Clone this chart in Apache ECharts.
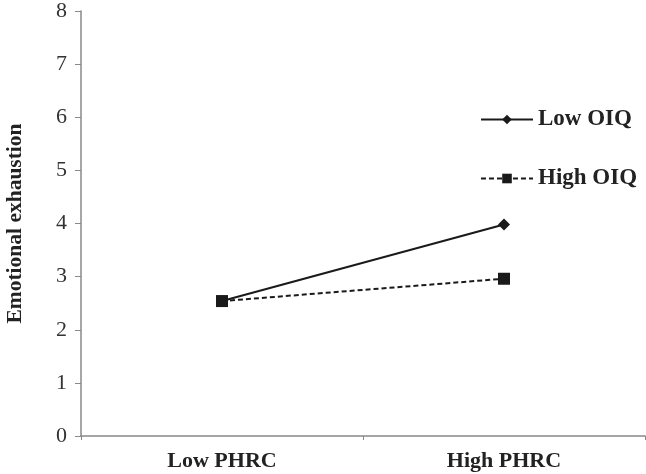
<!DOCTYPE html>
<html>
<head>
<meta charset="utf-8">
<script src="https://cdn.jsdelivr.net/npm/echarts@6/dist/echarts.min.js"></script>
<style>
	html, body { margin: 0; padding: 0; background: #fff; }
	#chart { width: 646px; height: 474px; }
</style>
</head>
<body>
<div id="chart"></div>
<script>
var categories = ["Low PHRC", "High PHRC"];
var lowOIQ = [2.54, 3.98];
var highOIQ = [2.54, 2.96];
var seriesNames = ["Low OIQ", "High OIQ"];

var serif = "'Liberation Serif', 'Times New Roman', serif";
var myChart = echarts.init(document.getElementById("chart"));

var option = {
	animation: false,
	backgroundColor: '#fff',
	grid: {
		left: 81,
		right: 1,
		top: 11,
		bottom: 38,
		outerBoundsMode: 'none',
		containLabel: false,
	},
	legend: {
		orient: 'vertical',
		left: 480,
		top: 108,
		padding: 0,
		itemWidth: 52,
		itemHeight: 12,
		itemGap: 36,
		textStyle: {
			fontFamily: serif,
			fontWeight: 'bold',
			fontSize: 23,
			color: '#222',
		},
		data: seriesNames,
	},
	xAxis: {
		type: 'category',
		data: categories,
		boundaryGap: true,
		axisLine: { lineStyle: { color: '#888', width: 1.5 } },
		axisTick: { show: true, length: 4, lineStyle: { color: '#888' } },
		axisLabel: {
			fontFamily: serif,
			fontWeight: 'bold',
			fontSize: 22,
			color: '#222',
			margin: 14,
		},
	},
	yAxis: {
		type: 'value',
		min: 0,
		max: 8,
		interval: 1,
		name: 'Emotional exhaustion',
		nameLocation: 'middle',
		nameGap: 55,
		nameTextStyle: {
			fontFamily: serif,
			fontWeight: 'bold',
			fontSize: 21.5,
			color: '#222',
		},
		splitLine: { show: false },
		axisLine: { show: true, lineStyle: { color: '#888', width: 1.5 } },
		axisTick: { show: true, length: 6, lineStyle: { color: '#888' } },
		axisLabel: {
			fontFamily: serif,
			fontSize: 22,
			color: '#333',
			margin: 14,
		},
	},
	series: [
		{
			name: seriesNames[0],
			type: 'line',
			data: lowOIQ,
			symbol: 'diamond',
			symbolSize: 12,
			color: '#1a1a1a',
			lineStyle: { color: '#1a1a1a', width: 2, type: 'solid' },
			itemStyle: { color: '#1a1a1a' },
		},
		{
			name: seriesNames[1],
			type: 'line',
			data: highOIQ,
			symbol: 'rect',
			symbolSize: 12,
			color: '#1a1a1a',
			lineStyle: { color: '#1a1a1a', width: 2, type: [5, 3] },
			itemStyle: { color: '#1a1a1a' },
		}
	]
};

option && myChart.setOption(option);
</script>
</body>
</html>
